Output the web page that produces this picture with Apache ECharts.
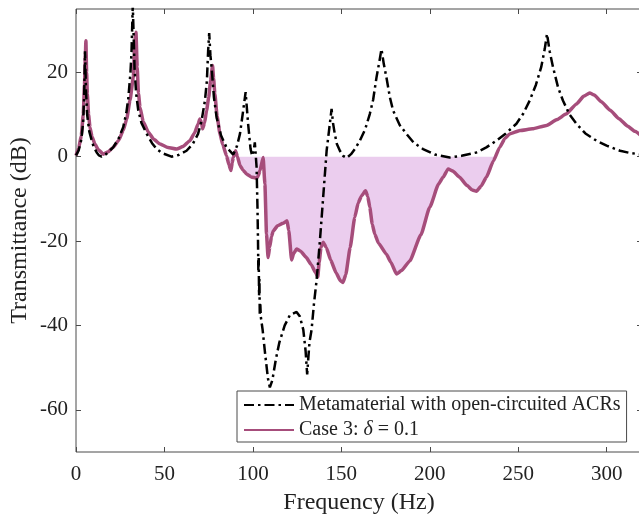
<!DOCTYPE html>
<html>
<head>
<meta charset="utf-8">
<script src="https://cdn.jsdelivr.net/npm/echarts@6/dist/echarts.min.js"></script>
<style>
html,body{margin:0;padding:0;background:#fff;overflow:hidden;}
#chart{width:639px;height:517px;}
</style>
</head>
<body>
<div id="chart"></div>
<script>
// ---- data (Frequency Hz, Transmittance dB) ----
const xTicks = [0, 50, 100, 150, 200, 250, 300];
const yTicks = [-60, -40, -20, 0, 20];

const openCircuit = [
  [0,0.3],[1.5,1.5],[3,4],[4,8],[4.6,14],[5.1,25],[5.6,16],[6.3,10],[7.5,6],[8.9,3.8],[10,2.3],[11.7,1.0],[13,0.3],[14.5,0],
  [17,0.6],[21,2.2],[24,4.2],[26.7,7],[28.5,10.5],[29.6,14],[30.8,20],[31.4,25],[32.1,36],[33.1,21],[34,15],[35.2,11],[37,8],
  [40,5.4],[43,3.2],[45.6,1.8],[49,0.8],[54,0],[58,0.4],[62.5,1.4],[66,3],[69,5.4],[71,8.5],[72.9,13.3],[74,18],[74.7,25],
  [75.3,29.3],[76,24],[76.7,21],[78,14],[79.5,9.3],[82,5],[85.1,2.2],[88.9,0.5],[91,2.5],[92.7,5.4],[94.5,10.9],[95.9,15.3],
  [97.3,7.8],[98.7,1.8],[99.6,0.2],[100.5,1.5],[101.1,3.4],[102.1,-2.5],[102.6,-12],[102.9,-20],[103.1,-27],[103.3,-24],
  [103.5,-33],[103.7,-29],[103.9,-37.5],[104.2,-35],[104.5,-38],[105.5,-41],[107,-47],[108.5,-52.5],[109.6,-54.7],[111,-53],
  [113,-48],[115,-44],[118,-40],[121,-37.5],[124.7,-36.8],[126.5,-37.8],[128.5,-41],[129.8,-46],[130.7,-51.6],[131.3,-48],
  [132,-44],[133.2,-41],[134.5,-35],[136,-29.4],[137.9,-19.9],[139.5,-11],[141.7,1.4],[143,6],[144.5,11.3],[145.3,8],
  [146.3,5.4],[147.5,3],[149.2,1.4],[151,0.2],[153,-0.3],[155.5,0.6],[158,2],[160.5,3.8],[163.5,6.5],[166.1,10.1],[168,13.5],
  [169.9,18.8],[171.5,22.5],[172.7,25.5],[174,22],[175.5,18.8],[177.5,14],[179.3,10.9],[183,7.5],[186.8,5.4],[191,3.3],
  [196.2,1.8],[203,0.5],[211.3,-0.2],[218,0.2],[226.4,1.0],[232,2.2],[237.7,3.8],[243,5.5],[249,7.8],[253,10.3],[256.5,13.3],
  [260,17],[263,21.2],[265,25.5],[266.3,29.1],[267.8,25],[269.7,21.2],[272.5,16.5],[275.3,13.3],[279,10],[282.9,7.8],[288,5.5],
  [294.2,3.8],[300,2.6],[307.6,1.4],[313,0.9],[318,0.6],[320,0.5]
];

const case3 = [
  [0,0.3],[1.5,2],[3,5],[4.1,10],[4.8,17],[5.3,24],[5.6,27.5],[6,20],[6.4,14.9],[7.1,10],[7.9,7],[9,4.8],[10.7,3],[12.5,1.7],
  [15.4,0.6],[18,1.1],[21,2.2],[24,3.8],[26.7,6.2],[28.7,9],[30.5,13.3],[32.4,18.8],[33.3,27.5],[33.9,29.5],[34.6,21.2],
  [35.3,15],[36.2,11.7],[38,8.3],[40.9,5.8],[44,4.1],[47.5,3],[52,2.2],[56.9,1.8],[60.5,2.4],[64.4,3.8],[67,5.6],[69.1,7.8],
  [70,8.9],[71,8],[71.6,6.6],[72.7,8],[73.8,10.9],[75,14],[76.1,18],[77.2,21.6],[77.8,18.5],[78.5,14.9],[79.8,9.5],[81.4,5.4],
  [83,2.8],[85.1,0.2],[86.5,-2],[87.6,-3.3],[88.3,-1.5],[88.9,-0.2],[90.2,1.4],[91.3,0],[92.7,-2.1],[94.5,-3.2],[96.4,-4.1],
  [99,-4.8],[102.1,-5.1],[103,-4.6],[104,-3.3],[105.8,-0.2],[106.8,-6.5],[107.7,-18.3],[108.6,-23.9],[109.5,-21.5],
  [110.5,-19],[111.5,-17.6],[114,-16.4],[117,-15.8],[119.3,-15.2],[120.3,-17.5],[121.9,-24.5],[123,-23],[124.7,-21.9],
  [127,-22.4],[130,-23.8],[133,-25.6],[135.5,-27.5],[136.7,-28.5],[137.5,-25],[138.5,-21.5],[139.7,-20.3],[141.5,-21.5],
  [144,-24.5],[147,-27.5],[149.5,-29.4],[151,-29.8],[152.5,-28],[155,-21.5],[157.6,-14.4],[159.5,-11],[161.4,-9.3],
  [163.7,-8.1],[165,-9.5],[166.1,-12],[167.5,-16],[168.9,-18.3],[171,-20.5],[175.5,-23.1],[178,-25],[181.2,-27.8],[184,-27],
  [188.7,-24.7],[195,-18.5],[200,-12],[205,-6.5],[207.5,-4.9],[210.4,-2.9],[213,-3.4],[216.9,-4.9],[221,-6.8],[224,-7.9],
  [226.4,-8.2],[229,-7],[232,-4.9],[236,-1],[239.5,2.2],[242.5,4.3],[245.2,5.4],[251,6.2],[258,6.6],[266,7.4],[272,8.8],
  [277,10.1],[283,12.5],[287,14.3],[290.4,15.1],[293,14.6],[297,13],[302,11],[307,9],[312,7.2],[316,6],[320,4.8]
];

// shaded band: where Case 3 lies below 0 dB (between ~85 and ~237 Hz)
const bandStart = 85.1, bandEnd = 237.4;
const band = [[bandStart, 0]]
  .concat(case3.filter(p => p[0] > bandStart && p[0] < bandEnd).map(p => [p[0], Math.min(p[1], 0)]))
  .concat([[bandEnd, 0]]);

const nameBlack = 'Metamaterial with open-circuited ACRs';
const namePink = 'Case 3: δ = 0.1';

const FONT = '"Liberation Serif", "Times New Roman", serif';
const TXT = '#222';
const AX = '#4a4a4a';

const chart = echarts.init(document.getElementById('chart'), null, {renderer: 'canvas'});

const xBase = {
  type: 'value', min: 0, max: 320,
  axisLine: {show: false, onZero: false},
  splitLine: {show: false},
  axisTick: {show: true, inside: true, length: 5, customValues: xTicks, lineStyle: {color: AX, width: 1}},
};
const yBase = {
  type: 'value', min: -70, max: 35,
  axisLine: {show: false, onZero: false},
  splitLine: {show: false},
  axisTick: {show: true, inside: true, length: 5, customValues: yTicks, lineStyle: {color: AX, width: 1}},
};

chart.setOption({
  animation: false,
  backgroundColor: '#fff',
  grid: {left: 76, top: 9, width: 566, height: 443, show: true, borderColor: AX, borderWidth: 1,
         backgroundColor: 'transparent', containLabel: false, outerBoundsMode: 'none'},
  xAxis: [
    Object.assign({}, xBase, {
      position: 'bottom',
      name: 'Frequency (Hz)', nameLocation: 'middle', nameGap: 39,
      nameTextStyle: {fontFamily: FONT, fontSize: 24, color: TXT},
      axisLabel: {show: true, customValues: xTicks, margin: 12, fontFamily: FONT, fontSize: 21, color: TXT}
    }),
    Object.assign({}, xBase, {position: 'top', axisLabel: {show: false}})
  ],
  yAxis: [
    Object.assign({}, yBase, {
      position: 'left',
      name: 'Transmittance (dB)', nameLocation: 'middle', nameGap: 44, nameMoveOverlap: false,
      nameTextStyle: {fontFamily: FONT, fontSize: 24, color: TXT},
      axisLabel: {show: true, customValues: yTicks, margin: 8, fontFamily: FONT, fontSize: 21, color: TXT}
    }),
    Object.assign({}, yBase, {position: 'right', axisLabel: {show: false}})
  ],
  legend: {
    data: [nameBlack, namePink],
    orient: 'vertical',
    left: 237, top: 391,
    padding: [4, 6, 2, 6],
    itemGap: 5,
    itemWidth: 50, itemHeight: 20,
    backgroundColor: '#fff',
    borderColor: AX, borderWidth: 1, borderRadius: 0,
    selectedMode: false,
    itemStyle: {color: 'rgba(0,0,0,0)', borderWidth: 0, opacity: 0},
    textStyle: {
      fontFamily: FONT, fontSize: 20, color: TXT,
      rich: {
        n: {fontFamily: FONT, fontSize: 20, color: TXT},
        i: {fontFamily: FONT, fontSize: 20, color: TXT, fontStyle: 'italic'}
      }
    },
    formatter: function (name) {
      if (name === namePink) return '{n|Case 3: }{i|δ}{n| = 0.1}';
      return '{n|' + name + '}';
    }
  },
  series: [
    {
      name: 'band', type: 'line', data: band, showSymbol: false, symbol: 'none',
      lineStyle: {width: 0, opacity: 0}, areaStyle: {color: '#EBCDEE', opacity: 1},
      silent: true, z: 1
    },
    {
      name: namePink, type: 'line', data: case3, showSymbol: false, symbol: 'none',
      smooth: 0.15, smoothMonotone: 'x',
      lineStyle: {color: '#A64D7B', width: 3.5}, itemStyle: {color: '#A64D7B'}, z: 2
    },
    {
      name: nameBlack, type: 'line', data: openCircuit, showSymbol: false, symbol: 'none',
      lineStyle: {color: '#000', width: 2.5, type: [10, 4, 2.5, 4]}, itemStyle: {color: '#000'}, z: 3
    }
  ]
});
</script>
</body>
</html>
